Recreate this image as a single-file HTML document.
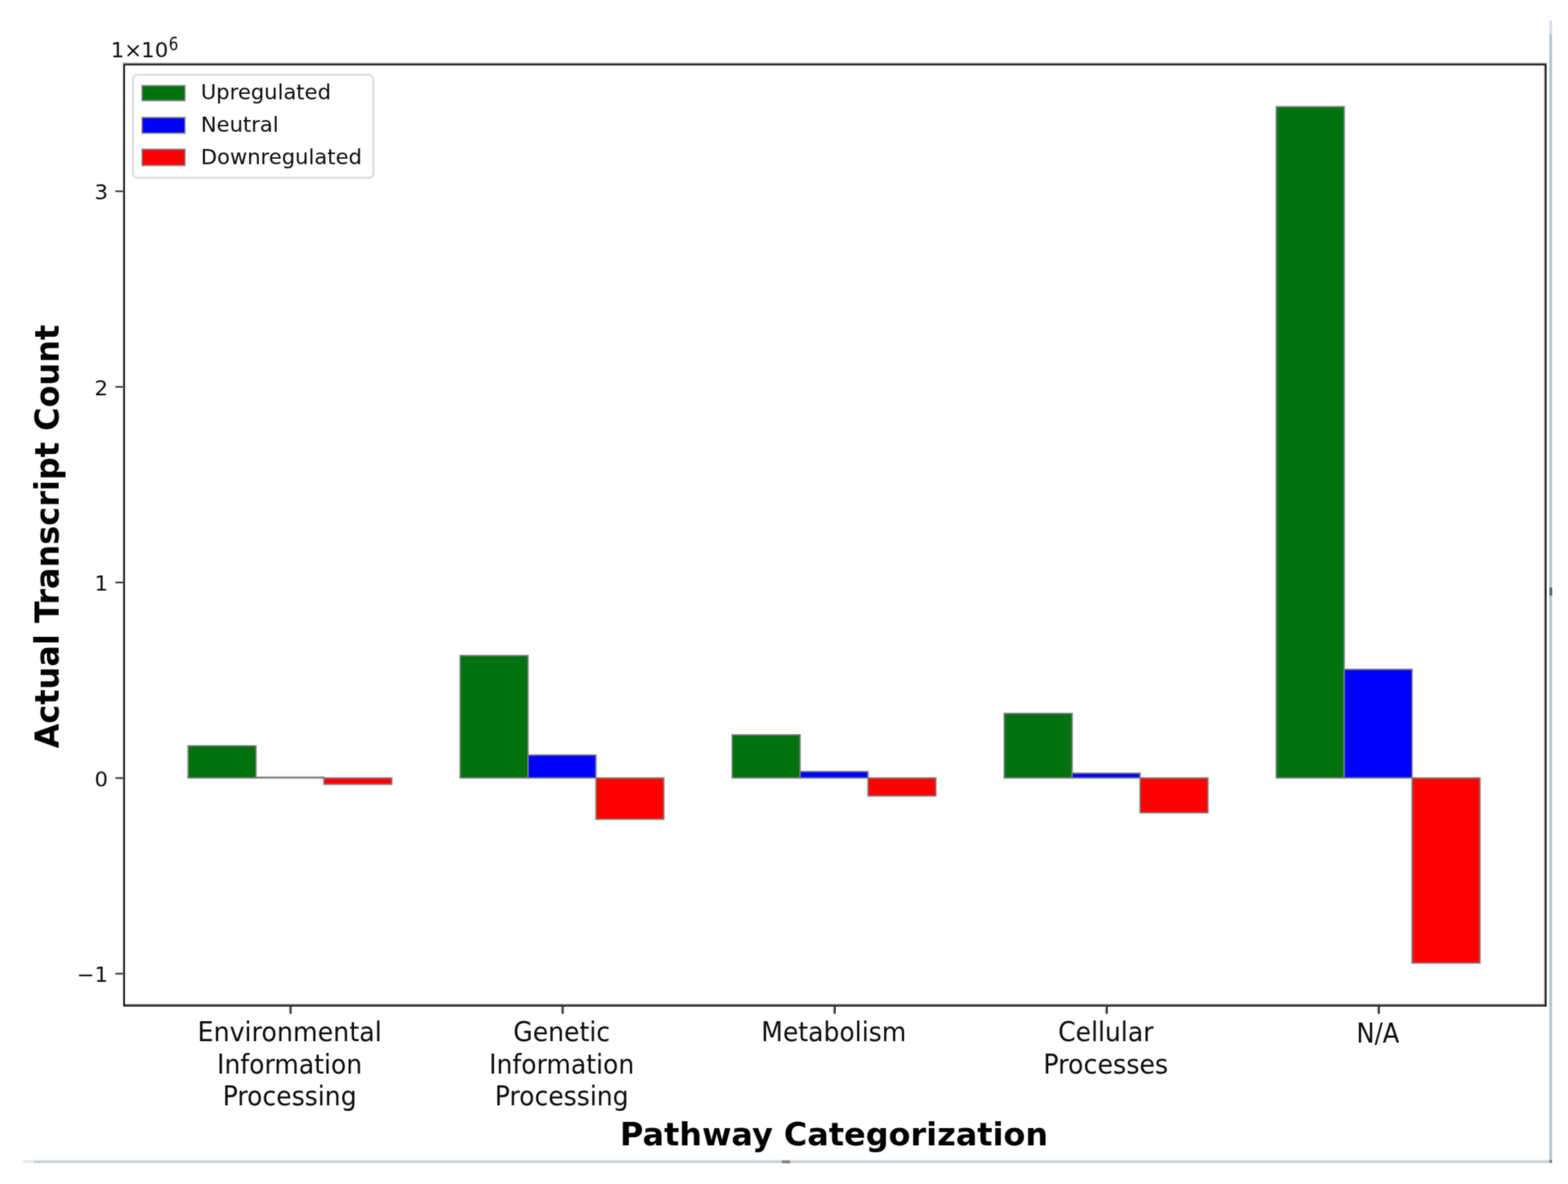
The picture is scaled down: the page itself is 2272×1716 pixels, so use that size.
<!DOCTYPE html>
<html lang="en"><head><meta charset="utf-8">
<title>Actual Transcript Count by Pathway Categorization</title>
<style>
html,body{margin:0;padding:0;background:#fff;}
body{width:2272px;height:1716px;overflow:hidden;position:relative;}
svg{position:absolute;left:0;top:0;display:block;}
text{font-family:"DejaVu Sans","Liberation Sans",sans-serif;fill:#0a0a0a;}
.yt{font-size:31.25px;text-anchor:end;}
.xt{font-size:37.50px;text-anchor:middle;}
.lab{font-size:46.90px;font-weight:bold;text-anchor:middle;fill:#000;}
.leg{font-size:31.25px;text-anchor:start;}
.off{font-size:31.25px;text-anchor:start;}
.sup{font-size:21.90px;text-anchor:start;}
</style></head><body>
<svg width="2272" height="1716" viewBox="0 0 2272 1716">
<rect x="0" y="0" width="2272" height="1716" fill="#ffffff"/>
<defs><linearGradient id="hh" x1="0" y1="0" x2="0" y2="1"><stop offset="0" stop-color="#a8a8a6"/><stop offset="1" stop-color="#56564f"/></linearGradient><linearGradient id="hl" x1="0" y1="0" x2="0" y2="1"><stop offset="0" stop-color="#dfe8f3"/><stop offset="1" stop-color="#aebccd"/></linearGradient><linearGradient id="vl" x1="0" y1="0" x2="1" y2="0"><stop offset="0" stop-color="#a9bdd3"/><stop offset="1" stop-color="#bccde0"/></linearGradient>
<filter id="soft" x="0" y="0" width="2272" height="1716" filterUnits="userSpaceOnUse" color-interpolation-filters="sRGB"><feGaussianBlur in="SourceGraphic" stdDeviation="1" result="b"/><feComposite in="SourceGraphic" in2="b" operator="arithmetic" k1="0" k2="0.50" k3="0.50" k4="0"/></filter></defs>
<g id="chart" filter="url(#soft)">
<g id="frame-lines">
<rect x="2245" y="30" width="4" height="20" fill="#d5dcee"/>
<rect x="2245" y="49" width="4" height="1634" fill="url(#vl)"/>
<rect x="33" y="1681.3" width="17" height="4" fill="#e3e8f5"/>
<rect x="49" y="1681.3" width="2197" height="4" fill="url(#hl)"/>
<rect x="2245" y="1681.3" width="4" height="4" fill="#77778a"/>
<rect x="1133" y="1681.4" width="12" height="4.2" fill="url(#hh)"/>
<rect x="2245.3" y="851.5" width="3.8" height="11.8" fill="#5c5c60"/>
</g>
<g id="bars" stroke="#808080" stroke-width="2.00" stroke-linejoin="miter">
<rect x="272.50" y="1080.90" width="98.40" height="46.60" fill="#007210"/>
<rect x="370.90" y="1126.50" width="98.40" height="1.00" fill="#0000ff"/>
<rect x="469.30" y="1127.50" width="98.40" height="9.20" fill="#ff0000"/>
<rect x="666.70" y="950.10" width="98.40" height="177.40" fill="#007210"/>
<rect x="765.10" y="1094.30" width="98.40" height="33.20" fill="#0000ff"/>
<rect x="863.50" y="1127.50" width="98.40" height="59.90" fill="#ff0000"/>
<rect x="1060.90" y="1065.00" width="98.40" height="62.50" fill="#007210"/>
<rect x="1159.30" y="1118.20" width="98.40" height="9.30" fill="#0000ff"/>
<rect x="1257.70" y="1127.50" width="98.40" height="26.10" fill="#ff0000"/>
<rect x="1455.10" y="1034.00" width="98.40" height="93.50" fill="#007210"/>
<rect x="1553.50" y="1120.60" width="98.40" height="6.90" fill="#0000ff"/>
<rect x="1651.90" y="1127.50" width="98.40" height="50.50" fill="#ff0000"/>
<rect x="1849.30" y="154.60" width="98.40" height="972.90" fill="#007210"/>
<rect x="1947.70" y="970.10" width="98.40" height="157.40" fill="#0000ff"/>
<rect x="2046.10" y="1127.50" width="98.40" height="268.30" fill="#ff0000"/>
</g>
<g id="axes" fill="none" stroke-linecap="butt">
<g stroke="#8a8a8a">
<line x1="178.05" y1="91.80" x2="2240.95" y2="91.80" stroke-width="1.6"/>
<line x1="181.05" y1="1455.85" x2="2238.75" y2="1455.85" stroke-width="1.6"/>
<line x1="178.45" y1="92.55" x2="178.45" y2="1458.80" stroke-width="0.9" stroke="#9a9a9a"/>
<line x1="2238.05" y1="94.75" x2="2238.05" y2="1456.60" stroke-width="1.4"/>
</g>
<rect x="179.95" y="93.65" width="2059.90" height="1364.05" stroke="#0c0c0c" stroke-width="2.2"/>
</g>
<g id="ticks" stroke="#3a3a3a" stroke-width="2.50">
<line x1="167.20" y1="277.20" x2="178.20" y2="277.20"/>
<line x1="167.20" y1="560.70" x2="178.20" y2="560.70"/>
<line x1="167.20" y1="844.20" x2="178.20" y2="844.20"/>
<line x1="167.20" y1="1127.70" x2="178.20" y2="1127.70"/>
<line x1="167.20" y1="1411.20" x2="178.20" y2="1411.20"/>
<line x1="419.50" y1="1458.60" x2="419.50" y2="1469.20" stroke="#9a9a9a" stroke-width="1.6"/>
<line x1="421.40" y1="1458.60" x2="421.40" y2="1469.40" stroke="#161616" stroke-width="2.2"/>
<line x1="813.70" y1="1458.60" x2="813.70" y2="1469.20" stroke="#9a9a9a" stroke-width="1.6"/>
<line x1="815.60" y1="1458.60" x2="815.60" y2="1469.40" stroke="#161616" stroke-width="2.2"/>
<line x1="1207.90" y1="1458.60" x2="1207.90" y2="1469.20" stroke="#9a9a9a" stroke-width="1.6"/>
<line x1="1209.80" y1="1458.60" x2="1209.80" y2="1469.40" stroke="#161616" stroke-width="2.2"/>
<line x1="1602.10" y1="1458.60" x2="1602.10" y2="1469.20" stroke="#9a9a9a" stroke-width="1.6"/>
<line x1="1604.00" y1="1458.60" x2="1604.00" y2="1469.40" stroke="#161616" stroke-width="2.2"/>
<line x1="1996.30" y1="1458.60" x2="1996.30" y2="1469.20" stroke="#9a9a9a" stroke-width="1.6"/>
<line x1="1998.20" y1="1458.60" x2="1998.20" y2="1469.40" stroke="#161616" stroke-width="2.2"/>
</g>
<g id="ytick-labels">
<text class="yt" transform="translate(156.40 289.40) scale(0.9800 0.9550)">3</text>
<text class="yt" transform="translate(156.40 572.90) scale(0.9800 0.9550)">2</text>
<text class="yt" transform="translate(156.40 856.40) scale(0.9800 0.9550)">1</text>
<text class="yt" transform="translate(156.40 1139.90) scale(0.9800 0.9550)">0</text>
<text class="yt" transform="translate(156.40 1422.60) scale(0.9800 0.9550)">−1</text>
</g>
<g id="offset-text">
<text class="off" transform="translate(160.50 83.00) scale(0.9850 0.9450)">1×<tspan dx="-1.3">10</tspan></text>
<text class="sup" transform="translate(244.40 72.60) scale(1.0000 1.2000)">6</text>
</g>
<g id="xtick-labels">
<text class="xt" transform="translate(419.70 1508.90) scale(0.9790 1.0500)">Environmental</text>
<text class="xt" transform="translate(419.70 1555.55) scale(0.9692 1.0500)">Information</text>
<text class="xt" transform="translate(419.70 1602.20) scale(0.9692 1.0500)">Processing</text>
<text class="xt" transform="translate(813.90 1508.90) scale(0.9692 1.0500)">Genetic</text>
<text class="xt" transform="translate(813.90 1555.55) scale(0.9692 1.0500)">Information</text>
<text class="xt" transform="translate(813.90 1602.20) scale(0.9692 1.0500)">Processing</text>
<text class="xt" transform="translate(1208.10 1508.90) scale(0.9692 1.0500)">Metabolism</text>
<text class="xt" transform="translate(1602.30 1508.90) scale(0.9692 1.0500)">Cellular</text>
<text class="xt" transform="translate(1602.30 1555.55) scale(0.9790 1.0500)">Processes</text>
<text class="xt" transform="translate(1996.50 1511.40) scale(0.9349 1.0500)">N/A</text>
</g>
<text class="lab" transform="translate(1208.50 1659.50) scale(0.9860 0.9800)">Pathway Categorization</text>
<text class="lab" transform="translate(85.00 777.60) rotate(-90) scale(0.9870 1.0200)">Actual Transcript Count</text>
<g id="legend">
<rect x="192.70" y="108.30" width="348.30" height="149.40" rx="6.5" ry="6.5" fill="#ffffff" fill-opacity="0.8" stroke="#dcdcdc" stroke-width="2.8"/>
<rect x="205.95" y="124.15" width="62.00" height="21.60" fill="#007210" stroke="#808080" stroke-width="1.90"/>
<text class="leg" transform="translate(291.00 144.30) scale(0.9780 0.9500)">Upregulated</text>
<rect x="205.95" y="170.35" width="62.00" height="22.60" fill="#0000ff" stroke="#808080" stroke-width="1.90"/>
<text class="leg" transform="translate(291.00 191.40) scale(0.9780 0.9500)">Neutral</text>
<rect x="205.95" y="216.35" width="62.00" height="23.40" fill="#ff0000" stroke="#808080" stroke-width="1.90"/>
<text class="leg" transform="translate(291.00 237.70) scale(0.9780 0.9500)">Downregulated</text>
</g>
</g>
</svg>
</body></html>
